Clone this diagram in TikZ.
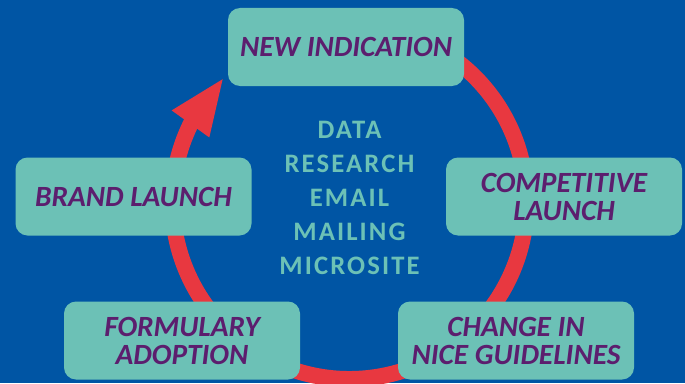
\documentclass[tikz,border=0pt]{standalone}
\usepackage{fontspec}
\setmainfont{Carlito}
\usetikzlibrary{arrows.meta,bending}
\definecolor{bgblue}{RGB}{0,85,164}
\definecolor{boxteal}{RGB}{108,193,182}
\definecolor{txtpurple}{RGB}{92,30,110}
\definecolor{ringred}{RGB}{232,56,64}
\begin{document}
\begin{tikzpicture}[x=0.75pt,y=0.75pt,
    stage/.style={rectangle,rounded corners=9pt,fill=boxteal,minimum width=177pt,minimum height=58.5pt,
      inner sep=0pt,align=center,text=txtpurple,font=\fontsize{22}{21}\selectfont\bfseries\itshape},
    hub/.style={align=center,text=boxteal,
      font=\fontsize{20}{25.5}\selectfont\bfseries\addfontfeatures{LetterSpace=8}}]
  \fill[bgblue] (0,0) rectangle (685,383);
  \useasboundingbox (0,0) rectangle (685,383);
  \coordinate (c) at (349.5,181);
  % cycle ring
  \draw[ringred,line width=12pt,-{Triangle[length=43.5pt,width=31pt]}]
    (c) ++(60:177) arc[start angle=60,end angle=-225,radius=177];
  \node[stage] (newind) at (346,336) {NEW INDICATION};
  \node[stage] (complaunch) at (564,186.5) {COMPETITIVE\\LAUNCH};
  \node[stage] (niceguide) at (516,42.5) {CHANGE IN\\NICE GUIDELINES};
  \node[stage] (formadopt) at (182,42.5) {FORMULARY\\ADOPTION};
  \node[stage] (brand) at (133.5,186.5) {BRAND LAUNCH};
  \node[hub] (media) at (349.5,185) {DATA\\RESEARCH\\EMAIL\\MAILING\\MICROSITE};
\end{tikzpicture}
\end{document}
